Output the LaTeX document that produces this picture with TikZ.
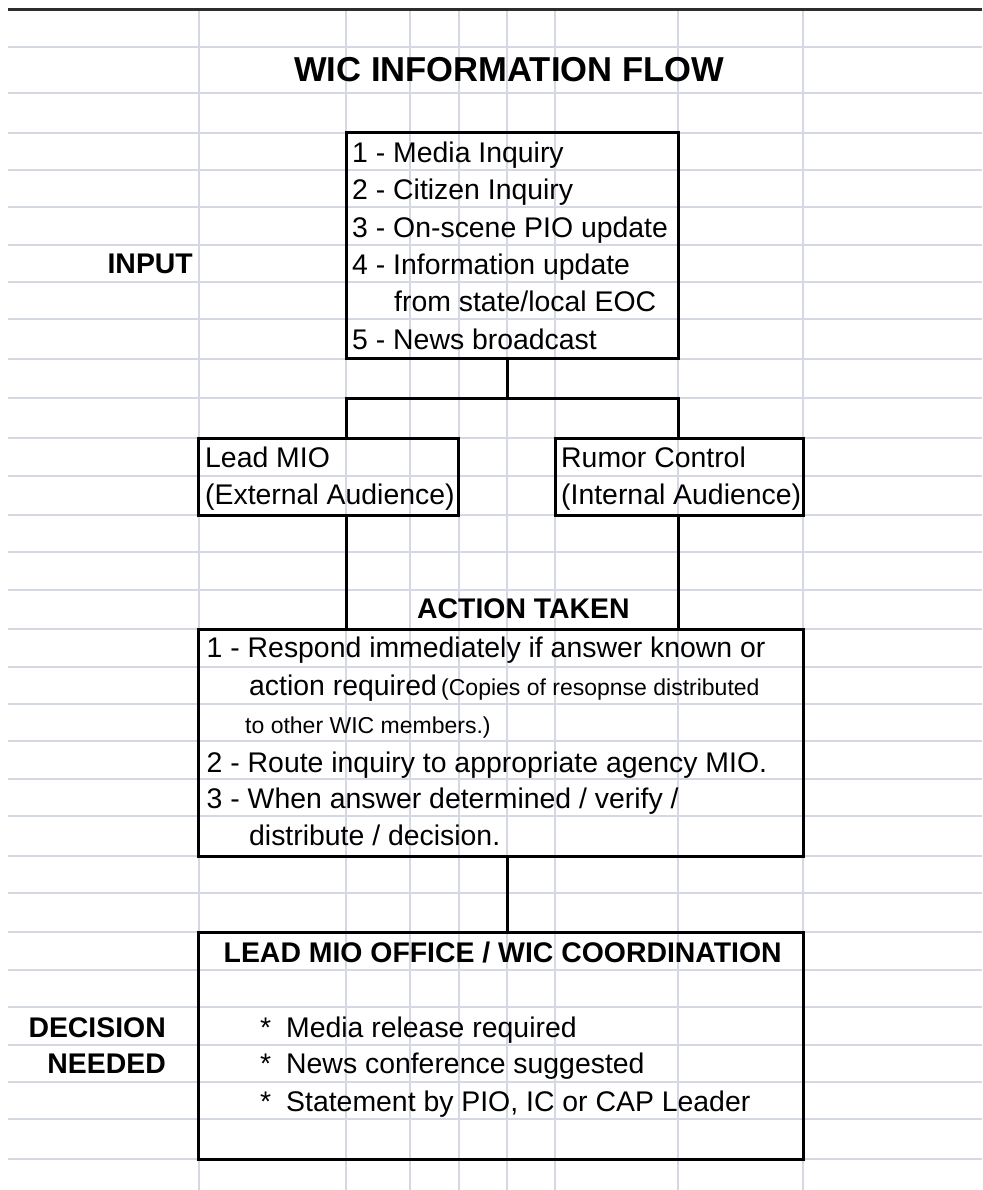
\documentclass[tikz,border=0pt]{standalone}
\usepackage{fontspec}
\setmainfont{Liberation Sans}
\usetikzlibrary{fit}
\definecolor{gridc}{RGB}{212,216,226}
\definecolor{topline}{RGB}{45,45,45}
\tikzset{
  gridline/.style={draw=gridc, line width=1.6pt},
  boxnode/.style={draw=black, line width=3pt, inner sep=0pt, rectangle},
  conn/.style={draw=black, line width=3pt},
  txt/.style={inner sep=0pt, anchor=base west, font=\fontsize{28.4}{34}\selectfont},
  smalltxt/.style={inner sep=0pt, anchor=base west, font=\fontsize{23}{27}\selectfont},
  boldtxt/.style={inner sep=0pt, font=\fontsize{28.4}{34}\selectfont\bfseries},
  titletxt/.style={inner sep=0pt, anchor=base west, font=\fontsize{34.6}{40}\selectfont\bfseries}
}
\begin{document}
\begin{tikzpicture}[x=1pt,y=-1pt]
\useasboundingbox (0,0) rectangle (982,1190);
\fill[white] (0,0) rectangle (982,1190);
% spreadsheet grid
\foreach \gy in {47,93,133,170,207,245,282,319,359,398,438,476,515,552,590,629,667,704,741,779,816,856,893,932,970,1007,1045,1082,1119,1159}
  \draw[gridline] (8,\gy) -- (982,\gy);
\foreach \gx in {199,346,410,459,507,555,678,803}
  \draw[gridline] (\gx,10) -- (\gx,1190);
\draw[draw=topline, line width=3pt] (8,10) -- (982,10);

% title and side labels
\node[titletxt] (title) at (294,82) {WIC INFORMATION FLOW};
\node[boldtxt, anchor=base east] (input lbl) at (193,273) {INPUT};
\node[boldtxt, anchor=base west] (action lbl) at (417,618) {ACTION TAKEN};
\node[boldtxt, anchor=base east] (decision lbl) at (166,1037) {DECISION};
\node[boldtxt, anchor=base east] (needed lbl) at (166,1073) {NEEDED};

% boxes
\node[boxnode, fit={(346,133) (678,358)}] (input) {};
\node[boxnode, fit={(198,438) (458,515)}] (lead) {};
\node[boxnode, fit={(555,438) (803,515)}] (rumor) {};
\node[boxnode, fit={(198,629) (803,856)}] (action) {};
\node[boxnode, fit={(198,932) (803,1159)}] (decision) {};

% input box text
\node[txt] (in1) at (352,163) {1 - Media Inquiry};
\node[txt] (in2) at (352,200) {2 - Citizen Inquiry};
\node[txt] (in3) at (352,237) {3 - On-scene PIO update};
\node[txt] (in4) at (352,274) {4 - Information update};
\node[txt] (in4b) at (394,311) {from state/local EOC};
\node[txt] (in5) at (352,349) {5 - News broadcast};

% audience boxes text
\node[txt] (lead1) at (205,467) {Lead MIO};
\node[txt] (lead2) at (205,504) {(External Audience)};
\node[txt] (rum1) at (561,467) {Rumor Control};
\node[txt] (rum2) at (561,504) {(Internal Audience)};

% action box text
\node[txt] (ac1) at (206.5,657) {1 - Respond immediately if answer known or};
\node[txt] (ac1b) at (249,695) {action required};
\node[smalltxt] (ac1c) at (441,695) {(Copies of resopnse distributed};
\node[smalltxt] (ac1d) at (245,733) {to other WIC members.)};
\node[txt] (ac2) at (206.5,772) {2 - Route inquiry to appropriate agency MIO.};
\node[txt] (ac3) at (206.5,808) {3 - When answer determined / verify /};
\node[txt] (ac3b) at (249,845) {distribute / decision.};

% decision box text
\node[boldtxt, anchor=base west] (dechead) at (223.5,962) {LEAD MIO OFFICE / WIC COORDINATION};
\node[txt] (st1) at (260,1037) {*};
\node[txt] (d1) at (286,1037) {Media release required};
\node[txt] (st2) at (260,1073) {*};
\node[txt] (d2) at (286,1073) {News conference suggested};
\node[txt] (st3) at (260,1111) {*};
\node[txt] (d3) at (286,1111) {Statement by PIO, IC or CAP Leader};

% connectors
\coordinate (split) at (507,398);
\coordinate (jl) at (346,398);
\coordinate (jr) at (678,398);
\draw[conn] (input.south -| split) -- (split);
\draw[conn] (jl |- lead.north) -- (jl) -- (jr) -- (jr |- rumor.north);
\draw[conn] (jl |- lead.south) -- (jl |- action.north);
\draw[conn] (jr |- rumor.south) -- (jr |- action.north);
\draw[conn] (split |- action.south) -- (split |- decision.north);
\end{tikzpicture}
\end{document}
